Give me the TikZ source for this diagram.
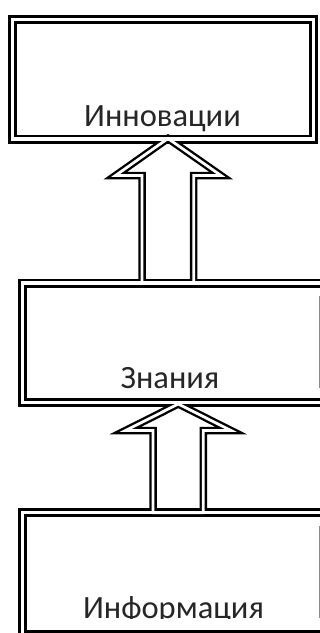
\documentclass[tikz,border=0pt]{standalone}
\usepackage{fontspec}
\setmainfont{Carlito}
\begin{document}
\begin{tikzpicture}[x=1pt,y=-1pt,
  boxblack/.style={draw=black,line width=9pt,line join=miter},
  boxwhite/.style={draw=white,line width=3.2pt,line join=miter},
  arrblack/.style={draw=black,line width=7.5pt,line join=miter},
  arrwhite/.style={draw=white,line width=2.8pt,line join=miter},
  label/.style={anchor=base,inner sep=0pt,font=\fontsize{32.5}{39}\selectfont,text=black!85},
  edgemark/.style={draw=black!45,line width=1pt}]
  \useasboundingbox (0,0) rectangle (320,633);
  \clip (0,0) rectangle (320,633);
  % corners of the three frames (centre of the double rule)
  \coordinate (b1nw) at (12.8,19.5);  \coordinate (b1se) at (313.7,139);
  \coordinate (b2nw) at (22.2,283);   \coordinate (b2se) at (345,402.8);
  \coordinate (b3nw) at (22.2,512.8); \coordinate (b3se) at (345,634.5);
  % hollow block arrows
  \def\arrowone{(168,138.5) -- (221,175.5) -- (193.7,175.5) -- (193.7,283) -- (142,283) -- (142,175.5) -- (115.5,175.5) -- cycle}
  \def\arrowtwo{(178.3,404) -- (231,430.5) -- (203.3,430.5) -- (203.3,512.8) -- (153,512.8) -- (153,430.5) -- (125.5,430.5) -- cycle}
  % black pass
  \draw[boxblack] (b1nw) rectangle (b1se);
  \draw[boxblack] (b2nw) rectangle (b2se);
  \draw[boxblack] (b3nw) rectangle (b3se);
  \draw[arrblack] \arrowone;
  \draw[arrblack] \arrowtwo;
  % white pass opens the double rules
  \draw[boxwhite] (b1nw) rectangle (b1se);
  \draw[boxwhite] (b2nw) rectangle (b2se);
  \draw[boxwhite] (b3nw) rectangle (b3se);
  \draw[arrwhite] \arrowone;
  \draw[arrwhite] \arrowtwo;
  % thin rules near the right edge
  \draw[edgemark] (319.2,296) -- (319.2,388);
  \draw[edgemark] (319.2,526) -- (319.2,618);
  % labels
  \node[label] (innov) at (162.5,126) {Инновации};
  \node[label] (know) at (170,388) {Знания};
  \begin{scope}
    \clip (0,0) rectangle (320,618.5);
    \node[label] (info) at (173.5,618) {Информация};
  \end{scope}
\end{tikzpicture}
\end{document}
